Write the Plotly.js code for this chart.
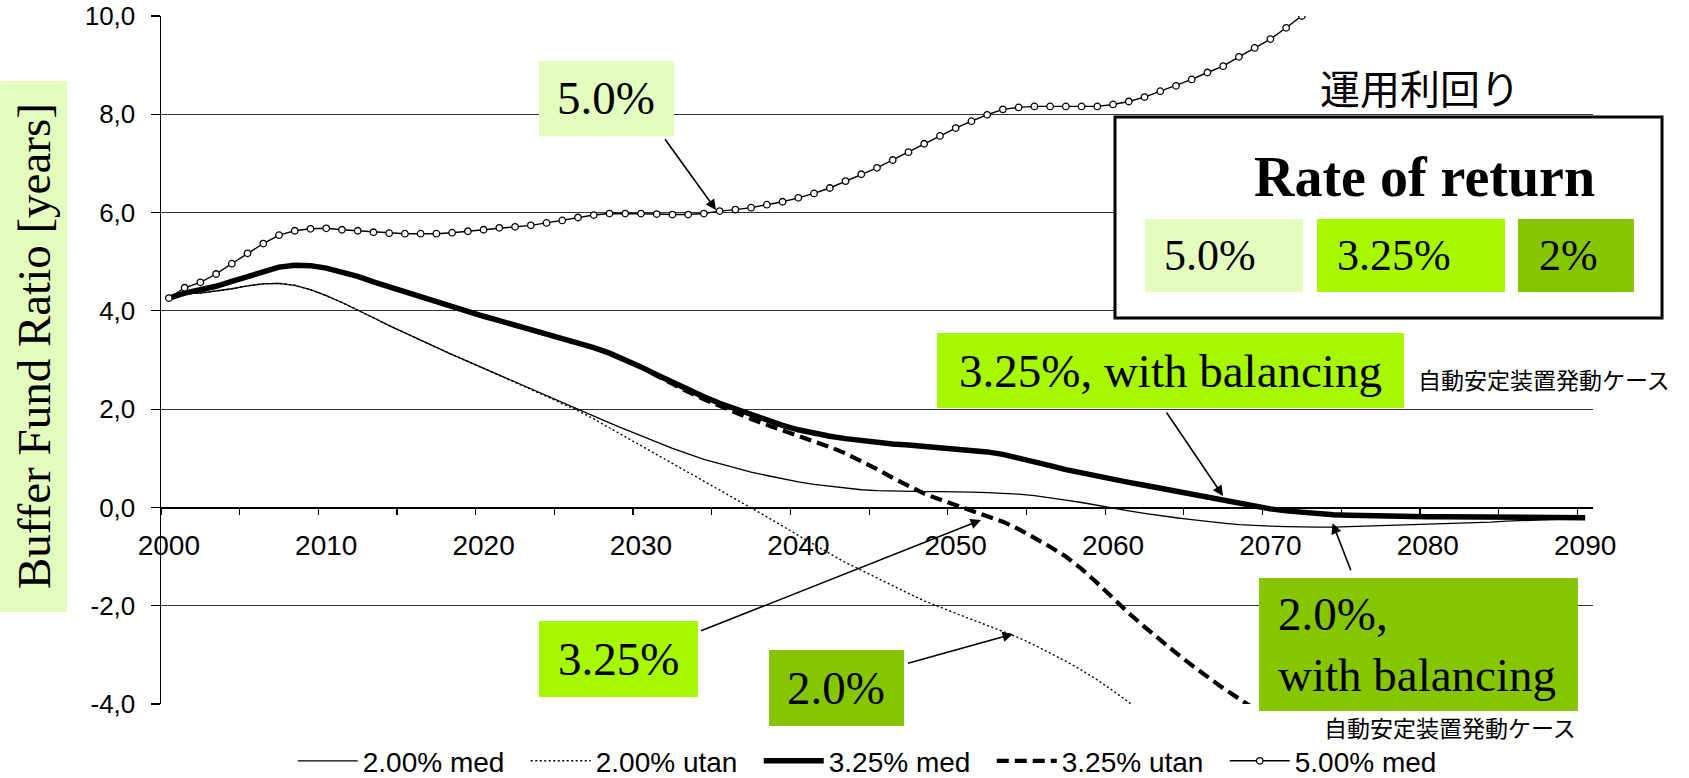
<!DOCTYPE html>
<html>
<head>
<meta charset="utf-8">
<script src="https://cdn.plot.ly/plotly-3.0.1.min.js"></script>
<style>html,body{margin:0;padding:0;background:#fff;}#chart{width:1689px;height:778px;}</style>
</head>
<body>
<div id="chart"></div>
<script>
// ---- categories (years) ----
const years = [2000,2001,2002,2003,2004,2005,2006,2007,2008,2009,
2010,2011,2012,2013,2014,2015,2016,2017,2018,2019,
2020,2021,2022,2023,2024,2025,2026,2027,2028,2029,
2030,2031,2032,2033,2034,2035,2036,2037,2038,2039,
2040,2041,2042,2043,2044,2045,2046,2047,2048,2049,
2050,2051,2052,2053,2054,2055,2056,2057,2058,2059,
2060,2061,2062,2063,2064,2065,2066,2067,2068,2069,
2070,2071,2072,2073,2074,2075,2076,2077,2078,2079,
2080,2081,2082,2083,2084,2085,2086,2087,2088,2089,2090];

// ---- series values (buffer fund ratio, years) ----
const med200 = [4.26,4.35,4.36,4.40,4.45,4.51,4.55,4.56,4.52,4.43,
4.31,4.17,4.02,3.86,3.70,3.55,3.40,3.25,3.11,2.97,
2.83,2.69,2.55,2.41,2.27,2.13,1.99,1.85,1.72,1.59,
1.46,1.33,1.20,1.09,0.98,0.89,0.80,0.72,0.65,0.58,
0.52,0.47,0.43,0.39,0.36,0.34,0.33,0.32,0.32,0.32,
0.32,0.31,0.30,0.29,0.27,0.24,0.20,0.15,0.10,0.04,
-0.02,-0.07,-0.12,-0.17,-0.21,-0.25,-0.29,-0.32,-0.35,-0.37,
-0.38,-0.39,-0.40,-0.40,-0.40,-0.39,-0.39,-0.38,-0.37,-0.36,
-0.35,-0.34,-0.33,-0.31,-0.30,-0.28,-0.27,-0.25,-0.24,-0.23,-0.22];

const utan200 = [4.26,4.35,4.36,4.40,4.45,4.51,4.55,4.56,4.52,4.43,
4.31,4.17,4.02,3.86,3.70,3.55,3.40,3.25,3.11,2.97,
2.83,2.69,2.55,2.41,2.26,2.11,1.97,1.80,1.62,1.44,
1.26,1.08,0.90,0.72,0.54,0.36,0.18,0.00,-0.19,-0.38,
-0.57,-0.76,-0.94,-1.12,-1.28,-1.44,-1.60,-1.75,-1.90,-2.03,
-2.16,-2.28,-2.40,-2.52,-2.65,-2.80,-2.96,-3.13,-3.31,-3.51,
-3.73,-3.96,-4.20,null,null,null,null,null,null,null,
null,null,null,null,null,null,null,null,null,null,
null,null,null,null,null,null,null,null,null,null,null];

const med325 = [4.26,4.36,4.43,4.50,4.60,4.70,4.80,4.89,4.93,4.92,
4.87,4.79,4.70,4.59,4.49,4.38,4.27,4.17,4.07,3.98,
3.89,3.80,3.71,3.62,3.53,3.44,3.35,3.25,3.14,3.01,
2.86,2.70,2.54,2.39,2.25,2.12,2.00,1.88,1.77,1.67,
1.58,1.51,1.45,1.40,1.36,1.32,1.29,1.27,1.24,1.22,
1.20,1.17,1.13,1.08,1.01,0.93,0.85,0.77,0.70,0.63,
0.57,0.51,0.45,0.39,0.32,0.26,0.20,0.14,0.08,0.02,
-0.03,-0.07,-0.10,-0.13,-0.15,-0.16,-0.17,-0.18,-0.18,-0.19,
-0.19,-0.19,-0.19,-0.19,-0.19,-0.19,-0.19,-0.20,-0.20,-0.21,-0.21];

const utan325 = [4.26,4.36,4.43,4.50,4.60,4.70,4.80,4.89,4.93,4.92,
4.87,4.79,4.70,4.59,4.49,4.38,4.27,4.17,4.07,3.98,
3.89,3.80,3.71,3.62,3.53,3.44,3.35,3.25,3.14,3.01,
2.86,2.68,2.51,2.35,2.20,2.06,1.93,1.80,1.68,1.57,
1.46,1.35,1.23,1.10,0.95,0.78,0.60,0.43,0.28,0.16,
0.05,-0.06,-0.17,-0.29,-0.44,-0.61,-0.80,-1.00,-1.25,-1.54,
-1.86,-2.15,-2.43,-2.70,-2.96,-3.21,-3.45,-3.68,-3.89,-4.10,
null,null,null,null,null,null,null,null,null,null,
null,null,null,null,null,null,null,null,null,null,null];

const med500 = [4.26,4.47,4.58,4.75,4.96,5.17,5.37,5.54,5.63,5.67,
5.68,5.65,5.63,5.60,5.58,5.57,5.57,5.57,5.59,5.62,
5.65,5.69,5.71,5.74,5.79,5.84,5.90,5.95,5.98,5.98,
5.98,5.97,5.96,5.96,5.98,6.03,6.06,6.10,6.16,6.22,
6.30,6.39,6.50,6.64,6.78,6.91,7.07,7.23,7.40,7.56,
7.72,7.86,7.99,8.10,8.14,8.16,8.16,8.16,8.16,8.16,
8.20,8.26,8.35,8.47,8.58,8.71,8.85,8.98,9.17,9.35,
9.53,9.76,10.00,10.25,null,null,null,null,null,null,
null,null,null,null,null,null,null,null,null,null,null];

const seriesNames = ["2.00% med","2.00% utan","3.25% med","3.25% utan","5.00% med"];

// ---- axis ticks ----
const yTicks = [-4,-2,0,2,4,6,8,10];
const yTickText = ["-4,0","-2,0","0,0","2,0","4,0","6,0","8,0","10,0"];
const xLabelYears = [2000,2010,2020,2030,2040,2050,2060,2070,2080,2090];
const xLabelText = ["2000","2010","2020","2030","2040","2050","2060","2070","2080","2090"];

// ---- colours ----
const cLight = "#E4FCBE", cLime = "#A6F700", cDark = "#86C600";

const SANS = "Liberation Sans, Arial, sans-serif";
const SERIF = "Liberation Serif, Times New Roman, serif";
const CJK = "Noto Sans CJK JP, sans-serif";

const xRange = [years[0]-0.5, years[years.length-1]+0.5];
const tickBounds = years.filter(y => (y-years[0]) % 5 === 0).map(y => y-0.5);
const yRange = [-4, 10];
const axisPos = (0 - yRange[0])/(yRange[1]-yRange[0]);

const traces = [
  {x: years, y: med200, name: seriesNames[0], mode: "lines",
   line: {color: "#000", width: 1.3}},
  {x: years, y: utan200, name: seriesNames[1], mode: "lines",
   line: {color: "#000", width: 1.4, dash: "2px,2.5px"}},
  {x: years, y: med325, name: seriesNames[2], mode: "lines",
   line: {color: "#000", width: 5.5}},
  {x: years, y: utan325, name: seriesNames[3], mode: "lines",
   line: {color: "#000", width: 4.2, dash: "12px,6px"}},
  {x: years, y: med500, name: seriesNames[4], mode: "lines+markers",
   line: {color: "#000", width: 1.4},
   marker: {symbol: "circle", size: 6.5, color: "#fff", line: {color: "#000", width: 1.3}}},
  {x: [], y: [], xaxis: "x2", showlegend: false, hoverinfo: "skip"}
];

function box(x0,x1,y0,y1,color,lw){
  return {type:"rect", xref:"paper", yref:"paper", x0:x0, x1:x1, y0:y0, y1:y1,
    fillcolor:color, line:{width: lw||0, color:"#000"}, layer:"above"};
}
const shapes = [
  box(-0.1124,-0.0656,0.1337,0.9055,cLight),
  box(0.2640,0.3582,0.8256,0.9346,cLight),
  box(0.5419,0.8680,0.4302,0.5392,cLime),
  box(0.2640,0.3750,0.0102,0.1206,cLime),
  box(0.4246,0.5189,-0.0320,0.0785,cDark),
  box(0.7668,0.9895,-0.0102,0.1831,cDark),
  box(0.6662,1.0482,0.5610,0.8532,"#fff",3),
  box(0.6872,0.7975,0.5988,0.7049,cLight),
  box(0.8073,0.9385,0.5988,0.7049,cLime),
  box(0.9476,1.0286,0.5988,0.7049,cDark)
];

function txt(text,x,y,font,size,opts){
  return Object.assign({text:text, xref:"paper", yref:"paper", x:x, y:y,
    showarrow:false, xanchor:"center", yanchor:"middle",
    font:{family:font, size:size, color:"#000"}}, opts||{});
}
function arrow(hx,hy,tx,ty){
  return {text:" ", x:hx, y:hy, ax:tx, ay:ty, xref:"x", yref:"y", axref:"x", ayref:"y",
    showarrow:true, arrowhead:2, arrowsize:1.3, arrowwidth:1.6, arrowcolor:"#000", standoff:0};
}
const annotations = [
  txt("Buffer Fund Ratio [years]", -0.0890, 0.5196, SERIF, 47, {textangle:-90}),
  txt("5.0%", 0.3111, 0.8801, SERIF, 47),
  txt("3.25%, with balancing", 0.7050, 0.4847, SERIF, 47),
  txt("3.25%", 0.3195, 0.0654, SERIF, 47),
  txt("2.0%", 0.4717, 0.0233, SERIF, 47),
  txt("2.0%,<br>with balancing", 0.7786, 0.0865, SERIF, 47, {xanchor:"left", align:"left"}),
  txt("自動安定装置発動ケース", 0.9661, 0.4724, CJK, 23),
  txt("自動安定装置発動ケース", 0.9001, -0.0334, CJK, 23),
  txt("運用利回り", 0.8792, 0.8961, CJK, 40),
  txt("<b>Rate of return</b>", 0.8820, 0.7653, SERIF, 56),
  txt("5.0%", 0.6990, 0.6519, SERIF, 44, {xanchor:"left"}),
  txt("3.25%", 0.8198, 0.6519, SERIF, 44, {xanchor:"left"}),
  txt("2%", 0.9609, 0.6519, SERIF, 44, {xanchor:"left"}),
  arrow(2034.77, 6.052, 2031.34, 7.578),
  arrow(2066.99, 0.232, 2063.21, 2.023),
  arrow(2051.61, -0.256, 2033.63, -2.536),
  arrow(2053.64, -2.576, 2046.78, -3.187),
  arrow(2073.95, -0.323, 2075.30, -1.437)
];

const layout = {
  width: 1689, height: 778,
  margin: {l: 161, r: 96, t: 16, b: 74, pad: 0, autoexpand: false},
  paper_bgcolor: "#fff", plot_bgcolor: "#fff",
  showlegend: true,
  legend: {orientation: "h", x: 0.092, xanchor: "left", y: -0.083, yanchor: "middle",
    font: {family: SANS, size: 28, color: "#000"}, entrywidth: 158, entrywidthmode: "pixels",
    itemwidth: 60, bgcolor: "rgba(0,0,0,0)", traceorder: "normal"},
  xaxis: {range: xRange, anchor: "free", position: axisPos, showline: true, linecolor: "#000",
    linewidth: 1.5, tickmode: "array", tickvals: xLabelYears, ticktext: xLabelText, ticks: "",
    ticklabelstandoff: 12, showgrid: false, zeroline: false,
    tickfont: {family: SANS, size: 28, color: "#000"}},
  xaxis2: {range: xRange, overlaying: "x", anchor: "free", position: axisPos, side: "bottom",
    tickmode: "array", tickvals: tickBounds, ticks: "outside", ticklen: 7, tickwidth: 1.2,
    tickcolor: "#000", showticklabels: false, showgrid: false, zeroline: false, showline: false},
  yaxis: {range: yRange, tickmode: "array", tickvals: yTicks, ticktext: yTickText,
    ticks: "outside", ticklen: 9, tickwidth: 1.2, tickcolor: "#000",
    showline: true, linecolor: "#000", linewidth: 1.5,
    showgrid: true, gridcolor: "#333", gridwidth: 1, zeroline: false,
    ticklabelstandoff: 10,
    tickfont: {family: SANS, size: 26, color: "#000"}},
  shapes: shapes,
  annotations: annotations
};

Plotly.newPlot("chart", traces, layout, {staticPlot: true, displayModeBar: false});
</script>
</body>
</html>
